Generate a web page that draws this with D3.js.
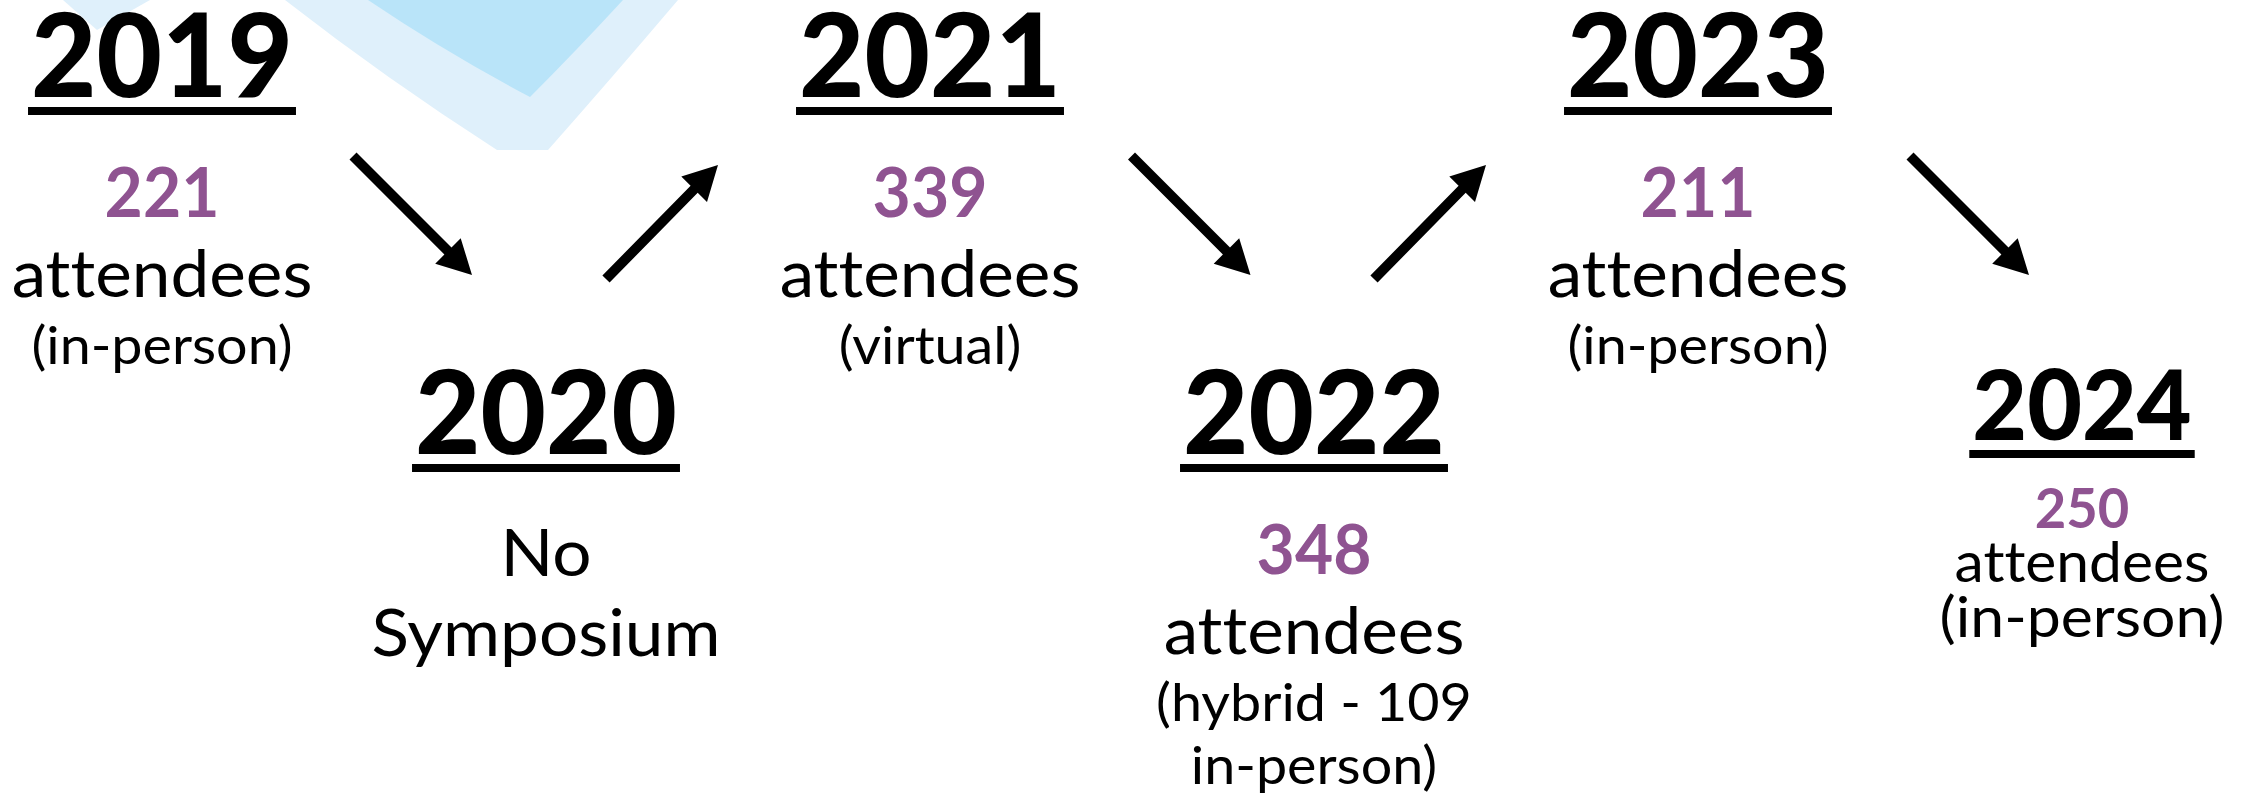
<!DOCTYPE html>
<html>
<head>
<meta charset="utf-8">
<script src="https://cdn.jsdelivr.net/npm/d3@7"></script>
<style>
  html, body { margin: 0; padding: 0; background: #ffffff; }
  svg { display: block; }
  text { font-family: Lato, "Open Sans", sans-serif; font-variant-ligatures: none; font-feature-settings: "liga" 0, "dlig" 0; }
</style>
</head>
<body>
<svg id="chart" width="2254" height="799"></svg>
<script>
// ---- data ----
const years = ["2019", "2020", "2021", "2022", "2023", "2024"];
const attendees = [221, null, 339, 348, 211, 250];
const unitLabel = "attendees";
const formatLines = [
  ["(in-person)"],
  [],
  ["(virtual)"],
  ["(hybrid - 109", "in-person)"],
  ["(in-person)"],
  ["(in-person)"]
];
const noEventLines = ["No", "Symposium"];

// ---- layout ----
const svg = d3.select("#chart");

const x = d3.scalePoint().domain(years).range([162, 2082]);
const arrowX = d3.scaleLinear().domain([0, years.length - 2]).range([353, 1910]);

const styles = {
  year:  { size: 117, weight: 900, fill: "#000000", k: 0.965 },
  num:   { size: 68,  weight: 700, fill: "#8f5391", k: 0.97 },
  body:  { size: 66,  weight: 400, fill: "#000000", k: 1.05 },
  paren: { size: 52,  weight: 400, fill: "#000000", k: 1.07 }
};
const compactStyles = {
  year:  { size: 97, weight: 900, fill: "#000000", k: 0.975 },
  num:   { size: 56, weight: 700, fill: "#8f5391", k: 0.97 },
  body:  { size: 57, weight: 400, fill: "#000000", k: 1.03 },
  paren: { size: 57, weight: 400, fill: "#000000", k: 1.065 }
};
const gaps = { "year>num": 120, "num>body": 80, "year>body": 122, "body>body": 80, "body>paren": 67, "paren>paren": 63 };
const compactGaps = { "year>num": 88, "num>body": 54, "body>paren": 55 };
const rowBase = [97, 454];
const compactBase = 440;

// ---- decorative logo fragment (background) ----
const bg = svg.append("g");
bg.append("path")
  .attr("d", "M63,0 L97,30 L150,0 Z")
  .attr("fill", "#dff0fb");
bg.append("path")
  .attr("d", "M285,0 Q385,78 497,150 L548,150 Q610,80 678,0 Z")
  .attr("fill", "#dff0fb");
bg.append("path")
  .attr("d", "M368,0 Q445,52 530,97 Q575,52 623,0 Z")
  .attr("fill", "#b9e4f9");

// ---- columns ----
const cols = years.map((yr, i) => {
  const compact = i === years.length - 1;
  const lines = [{ t: yr, s: "year" }];
  if (attendees[i] == null) {
    noEventLines.forEach(t => lines.push({ t, s: "body" }));
  } else {
    lines.push({ t: String(attendees[i]), s: "num" });
    lines.push({ t: unitLabel, s: "body" });
    formatLines[i].forEach(t => lines.push({ t, s: "paren" }));
  }
  let y = compact ? compactBase : rowBase[i % 2];
  lines.forEach((l, j) => {
    if (j > 0) {
      const key = lines[j - 1].s + ">" + l.s;
      y += (compact ? compactGaps[key] : gaps[key]);
    }
    l.y = y;
    l.st = (compact ? compactStyles : styles)[l.s];
  });
  return { yr, i, lines };
});

const colG = svg.selectAll("g.col").data(cols).join("g")
  .attr("class", "col")
  .attr("transform", d => `translate(${x(d.yr)},0)`);

colG.each(function(d) {
  const g = d3.select(this);
  d.lines.forEach(l => {
    const t = g.append("text")
      .attr("x", 0).attr("y", l.y)
      .attr("text-anchor", "middle")
      .attr("font-size", l.st.size)
      .attr("font-weight", l.st.weight)
      .attr("fill", l.st.fill)
      .text(l.t);
    const natural = t.node().getComputedTextLength();
    const w = natural * l.st.k;
    t.attr("textLength", w).attr("lengthAdjust", "spacingAndGlyphs");
    if (l.s === "year") {
      g.append("rect")
        .attr("x", -w / 2 - 3).attr("y", l.y + 10)
        .attr("width", w + 6).attr("height", 8)
        .attr("fill", "#000");
    }
  });
});

// ---- arrows between consecutive years ----
function arrowPath(x1, y1, x2, y2, sw, hl, hw) {
  const dx = x2 - x1, dy = y2 - y1, L = Math.hypot(dx, dy);
  const ux = dx / L, uy = dy / L, nx = -uy, ny = ux;
  const bx = x2 - ux * hl, by = y2 - uy * hl;
  const p = [
    [x1 + nx * sw / 2, y1 + ny * sw / 2],
    [bx + nx * sw / 2, by + ny * sw / 2],
    [bx + nx * hw / 2, by + ny * hw / 2],
    [x2, y2],
    [bx - nx * hw / 2, by - ny * hw / 2],
    [bx - nx * sw / 2, by - ny * sw / 2],
    [x1 - nx * sw / 2, y1 - ny * sw / 2]
  ];
  return "M" + p.map(q => q[0].toFixed(1) + "," + q[1].toFixed(1)).join("L") + "Z";
}

const transitions = d3.range(years.length - 1).map(i => ({ i, down: i % 2 === 0 }));
svg.append("g").selectAll("path").data(transitions).join("path")
  .attr("fill", "#000")
  .attr("d", d => {
    if (d.down) {
      const x1 = arrowX(d.i);
      return arrowPath(x1, 156, x1 + 119, 275, 10, 34, 36);
    } else {
      const x1 = x(years[d.i]) + 60;
      return arrowPath(x1, 279, x1 + 112, 165, 10, 34, 36);
    }
  });
</script>
</body>
</html>
